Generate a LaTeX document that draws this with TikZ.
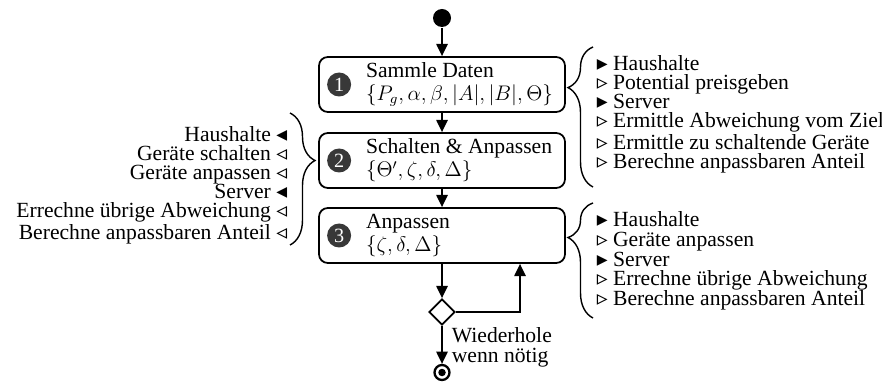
\documentclass[tikz,border=0pt]{standalone}
\usepackage{fontspec}
\setmainfont{Liberation Serif}
\newfontfamily\dejavu{DejaVu Sans}
\newcommand{\voll}{{\dejavu ▸}}
\newcommand{\leer}{{\dejavu ▹}}
\newcommand{\vollL}{{\dejavu ◂}}
\newcommand{\leerL}{{\dejavu ◃}}
\usetikzlibrary{arrows.meta,shapes.geometric,decorations.pathreplacing,positioning}

\begin{document}
\begin{tikzpicture}[->,>={Triangle[length=7pt,width=6.5pt]},line width=1pt,
  stepbox/.style={draw,rounded corners=5pt,minimum width=4.92cm,minimum height=1.1cm,inner sep=0pt},
  nummer/.style={circle,fill=black!78,text=white,inner sep=0pt,minimum size=0.48cm,font=\fontsize{11.5}{11}\selectfont},
  boxtext/.style={anchor=west,align=left,inner sep=0pt,font=\fontsize{12.3}{13}\selectfont},
  liste/.style={inner sep=0pt,font=\fontsize{12.3}{10.8}\selectfont},
  klammer/.style={-,thick,decorate,decoration={brace,amplitude=0.5cm,aspect=#1}},
  endnode/.style={circle,draw,line width=1.3pt,inner sep=0pt,minimum size=0.3cm,
    path picture={\fill (path picture bounding box.center) circle (0.075cm);}}]

  \useasboundingbox (0,0) rectangle (17.64,7.62);

  \node[circle,fill,inner sep=0pt,minimum size=0.36cm] (start) at (8.84,7.26) {};
  \node[stepbox] (s1) at (8.84,5.93) {};
  \node[stepbox] (s2) at (8.84,4.41) {};
  \node[stepbox] (s3) at (8.84,2.91) {};
  \node[draw,diamond,inner sep=0pt,minimum size=0.52cm] (dec) at (8.84,1.38) {};
  \node[endnode] (end) at (8.84,0.17) {};

  % steps
  \node[nummer] (n1) at ([xshift=0.42cm]s1.west) {1};
  \node[boxtext] (t1) at ([xshift=0.94cm]s1.west) {Sammle Daten\\{\fontsize{11.5}{13}\selectfont$\{P_g, \alpha, \beta, |A|, |B|, \Theta\}$}};
  \node[nummer] (n2) at ([xshift=0.42cm]s2.west) {2};
  \node[boxtext] (t2) at ([xshift=0.94cm]s2.west) {Schalten \& Anpassen\\{\fontsize{11.5}{13}\selectfont$\{\Theta', \zeta, \delta, \Delta\}$}};
  \node[nummer] (n3) at ([xshift=0.42cm]s3.west) {3};
  \node[boxtext] (t3) at ([xshift=0.94cm]s3.west) {Anpassen\\{\fontsize{11.5}{13}\selectfont$\{\zeta, \delta, \Delta\}$}};

  \path (start) edge (s1)
        (s1) edge (s2)
        (s2) edge (s3)
        (s3) edge (dec)
        (dec) edge (end);
  \draw (dec.east) -| ([xshift=1.56cm]s3.south);

  \node[anchor=north west,align=left,inner sep=0pt,font=\fontsize{12.3}{11.4}\selectfont] (wdh) at (9.02,1.08) {Wiederhole\\wenn nötig};

  % braces
  \draw[klammer=0.71] (11.86,3.88) -- (11.86,6.68);
  \draw[klammer=0.36] (5.8,5.36) -- (5.8,2.72);
  \draw[klammer=0.70] (11.86,1.26) -- (11.86,3.56);

  \node[liste,anchor=north west,align=left] (r1) at (11.92,6.52) {\voll{} Haushalte\\
    \leer{} Potential preisgeben\\
    \voll{} Server\\
    \leer{} Ermittle Abweichung vom Ziel\\
    \leer{} Ermittle zu schaltende Geräte\\
    \leer{} Berechne anpassbaren Anteil};
  \node[liste,anchor=north east,align=right] (l2) at (5.76,5.1) {Haushalte \vollL\\
    Geräte schalten \leerL\\
    Geräte anpassen \leerL\\
    Server \vollL\\
    Errechne übrige Abweichung \leerL\\
    Berechne anpassbaren Anteil \leerL};
  \node[liste,anchor=north west,align=left,font=\fontsize{12.3}{11.2}\selectfont] (r3) at (11.92,3.4) {\voll{} Haushalte\\
    \leer{} Geräte anpassen\\
    \voll{} Server\\
    \leer{} Errechne übrige Abweichung\\
    \leer{} Berechne anpassbaren Anteil};

\end{tikzpicture}
\end{document}
